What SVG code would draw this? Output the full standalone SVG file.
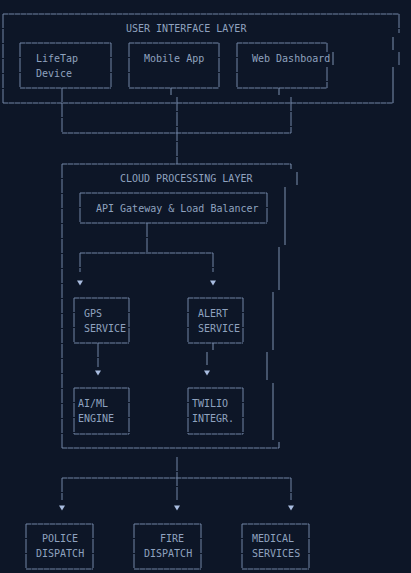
<svg xmlns="http://www.w3.org/2000/svg" width="411" height="573" viewBox="0 0 411 573">
<defs>
<style>
.bg{fill:#0d1627}
.h{stroke:#7285a6;stroke-width:1;stroke-dasharray:5.5 0.5;fill:none}
.v{stroke:#7285a6;stroke-width:1;stroke-dasharray:14 1;fill:none}
.s{stroke:#7d90b0;stroke-width:1;fill:none}
.t{font-family:"DejaVu Sans Mono","Liberation Mono",monospace;font-size:10px;fill:#8fa2bf}
.ah{fill:#a9bde0}
</style>
<polygon id="arr" points="-3,-2.5 3,-2.5 0,2.5"/>
</defs>
<rect class="bg" width="411" height="573"/>

<g id="ui-layer">
<path class="h" d="M3,14H399M3,103H393"/>
<path class="v" d="M3,14V103M399,14V33M399,52V65"/>
<path class="s" d="M393,37V50M393,67V103"/>
<text class="t" x="126" y="31.5">USER INTERFACE LAYER</text>
</g>

<g id="lifetap">
<path class="h" d="M20,43H111M20,88H111"/>
<path class="v" d="M20,43V88M111,43V88"/>
<text class="t" x="36" y="61.5">LifeTap</text>
<text class="t" x="36" y="76.5">Device</text>
</g>

<g id="mobile-app">
<path class="h" d="M129,43H219M129,88H219"/>
<path class="v" d="M129,43V88M219,43V88"/>
<text class="t" x="144" y="61.5">Mobile App</text>
</g>

<g id="web-dashboard">
<path class="h" d="M237,43H327M237,88H327"/>
<path class="v" d="M237,43V88M327,43V52M327,67V88"/>
<path class="s" d="M333,52V65"/>
<text class="t" x="252" y="61.5">Web Dashboard</text>
</g>

<g id="cloud-layer">
<path class="h" d="M62,164H291M62,448H279"/>
<path class="v" d="M62,164V448"/>
<path class="s" d="M291,164V169M297,172V185M285,187V245M279,247V290M273,292V350M267,352V380M273,383V440M279,442V448"/>
<text class="t" x="120" y="181.5">CLOUD PROCESSING LAYER</text>
</g>

<g id="api-gateway">
<path class="h" d="M80,193H267M80,223H267"/>
<path class="v" d="M80,193V223M267,193V223"/>
<text class="t" x="96" y="211.5">API Gateway &amp; Load Balancer</text>
</g>

<g id="gps-service">
<path class="h" d="M74,298H129M74,343H129"/>
<path class="v" d="M74,298V343M129,298V343"/>
<text class="t" x="84" y="316.5">GPS</text>
<text class="t" x="84" y="331.5">SERVICE</text>
</g>

<g id="alert-service">
<path class="h" d="M188,298H243M188,343H243"/>
<path class="v" d="M188,298V343M243,298V343"/>
<text class="t" x="198" y="316.5">ALERT</text>
<text class="t" x="198" y="331.5">SERVICE</text>
</g>

<g id="aiml-engine">
<path class="h" d="M74,388H129M74,434H129"/>
<path class="v" d="M74,388V434M129,388V434"/>
<text class="t" x="78" y="406.5">AI/ML</text>
<text class="t" x="78" y="421.5">ENGINE</text>
</g>

<g id="twilio">
<path class="h" d="M188,388H243M188,434H243"/>
<path class="v" d="M188,388V434M243,388V434"/>
<text class="t" x="192" y="406.5">TWILIO</text>
<text class="t" x="192" y="421.5">INTEGR.</text>
</g>

<g id="police">
<path class="h" d="M26,524H93M26,569H93"/>
<path class="v" d="M26,524V569M93,524V569"/>
<text class="t" x="42" y="541.5">POLICE</text>
<text class="t" x="36" y="556.5">DISPATCH</text>
</g>

<g id="fire">
<path class="h" d="M134,524H201M134,569H201"/>
<path class="v" d="M134,524V569M201,524V569"/>
<text class="t" x="160" y="541.5">FIRE</text>
<text class="t" x="144" y="556.5">DISPATCH</text>
</g>

<g id="medical">
<path class="h" d="M242,524H309M242,569H309"/>
<path class="v" d="M242,524V569M309,524V569"/>
<text class="t" x="252" y="541.5">MEDICAL</text>
<text class="t" x="252" y="556.5">SERVICES</text>
</g>

<g id="connectors">
<path class="h" d="M62,133H291M80,253H213M62,478H291"/>
<path class="v" d="M62,88V133M291,97V133M177,97V164"/>
<path class="s" d="M171,88V95M279,88V95"/>
<path class="v" d="M147,223V253M80,253V272M213,253V272"/>
<path class="v" d="M98,343V367"/>
<path class="s" d="M213,343V350M207,352V365"/>
<path class="v" d="M177,457V500M62,478V500M291,478V500"/>
<g class="ah">
<use href="#arr" x="80" y="283"/>
<use href="#arr" x="213" y="283"/>
<use href="#arr" x="98" y="373"/>
<use href="#arr" x="207" y="373"/>
<use href="#arr" x="62" y="508"/>
<use href="#arr" x="177" y="508"/>
<use href="#arr" x="291" y="508"/>
</g>
</g>
</svg>
